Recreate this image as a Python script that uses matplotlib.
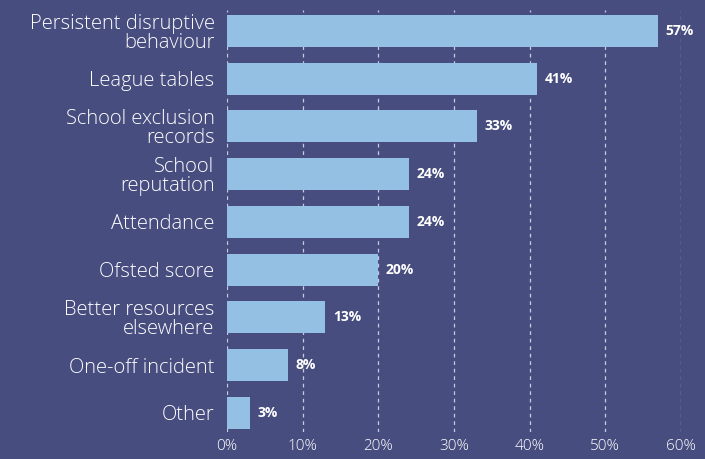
import matplotlib
matplotlib.use("Agg")
import matplotlib.pyplot as plt
from matplotlib.ticker import FuncFormatter

categories = [
    "Persistent disruptive\nbehaviour",
    "League tables",
    "School exclusion\nrecords",
    "School\nreputation",
    "Attendance",
    "Ofsted score",
    "Better resources\nelsewhere",
    "One-off incident",
    "Other",
]
values = [57, 41, 33, 24, 24, 20, 13, 8, 3]
x_ticks = [0, 10, 20, 30, 40, 50, 60]

bg = "#474D7F"
bar_color = "#94C1E3"
text_color = "white"

plt.rcParams["font.family"] = ["Open Sans", "DejaVu Sans"]

fig = plt.figure(figsize=(7.05, 4.59), dpi=100, facecolor=bg)
ax = fig.add_axes([227 / 705, 1 - 432 / 459, (681 - 227) / 705, (432 - 10) / 459])
ax.set_facecolor(bg)

ypos = list(range(len(categories)))
ax.barh(ypos, values, height=0.67, color=bar_color, zorder=2)

for y, v in zip(ypos, values):
    ax.text(v + 1.0, y, f"{v}%", va="center", ha="left", color=text_color,
            fontsize=10, fontweight="bold", zorder=3)

ax.set_xlim(0, 60)
ax.set_ylim(8.4, -0.44)
ax.set_yticks(ypos)
ax.set_yticklabels(categories, fontsize=14.5, color=text_color,
                   linespacing=0.95, fontweight="light")
ax.set_xticks(x_ticks)
ax.xaxis.set_major_formatter(FuncFormatter(lambda v, p: f"{int(v)}%"))
ax.tick_params(axis="x", colors=text_color, labelsize=11, length=0, pad=5)
for lbl in ax.get_xticklabels():
    lbl.set_fontweight("light")
ax.tick_params(axis="y", length=0, pad=9)

ax.grid(axis="x", color="#C8CBDD", linestyle=(0, (3, 3)), linewidth=0.9, zorder=1)
ax.grid(axis="y", visible=False)
for s in ax.spines.values():
    s.set_visible(False)

fig.savefig("out.png", dpi=100, facecolor=bg)
